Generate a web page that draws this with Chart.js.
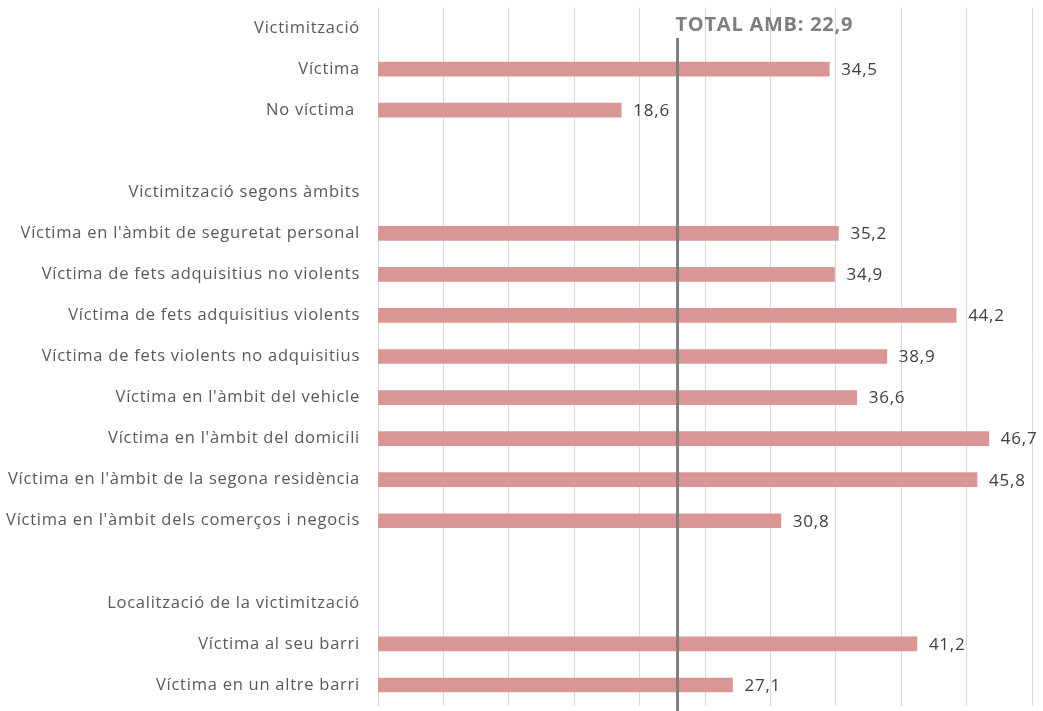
<!DOCTYPE html>
<html>
<head>
<meta charset="utf-8">
<script src="https://cdn.jsdelivr.net/npm/chart.js@4"></script>
<style>
    html, body { margin: 0; padding: 0; background: #ffffff; }
    #wrap { width: 1043px; height: 711px; }
</style>
</head>
<body>
<div id="wrap"><canvas id="myChart" width="1043" height="711"></canvas></div>
<script>
// Data

var categories = [
    "Victimització",
    "Víctima",
    "No víctima ",
    "",
    "Victimització segons àmbits",
    "Víctima en l'àmbit de seguretat personal",
    "Víctima de fets adquisitius no violents",
    "Víctima de fets adquisitius violents",
    "Víctima de fets violents no adquisitius",
    "Víctima en l'àmbit del vehicle",
    "Víctima en l'àmbit del domicili",
    "Víctima en l'àmbit de la segona residència",
    "Víctima en l'àmbit dels comerços i negocis",
    "",
    "Localització de la victimització",
    "Víctima al seu barri",
    "Víctima en un altre barri"
];

var values = [null, 34.5, 18.6, null, null, 35.2, 34.9, 44.2, 38.9, 36.6, 46.7, 45.8, 30.8, null, null, 41.2, 27.1];

var totalAmb = 22.9;
var totalLabel = "TOTAL AMB: 22,9";

var fontFamily = "'Open Sans', 'Liberation Sans', sans-serif";

// Slightly looser lettering for all text

var spacing = {
    id: 'spacing',
    beforeDraw: function (chart) {
        chart.ctx.letterSpacing = '0.75px';
    },
    afterDraw: function (chart) {
        chart.ctx.letterSpacing = '0px';
    }
};

// Value labels at the end of each bar

var valueLabels = {
    id: 'valueLabels',
    afterDatasetsDraw: function (chart) {
        var ctx = chart.ctx;
        var meta = chart.getDatasetMeta(0);
        ctx.save();
        ctx.font = '17px ' + fontFamily;
        ctx.fillStyle = '#404040';
        ctx.textAlign = 'left';
        ctx.textBaseline = 'middle';
        meta.data.forEach(function (bar, i) {
            if (values[i] === null) return;
            ctx.fillText(values[i].toFixed(1).replace('.', ','), bar.x + 12, bar.y + 1);
        });
        ctx.restore();
    }
};

// Reference line for the AMB total

var totalLine = {
    id: 'totalLine',
    afterDatasetsDraw: function (chart) {
        var ctx = chart.ctx;
        var x = chart.scales.x.getPixelForValue(totalAmb);
        ctx.save();
        ctx.strokeStyle = '#7f7f7f';
        ctx.lineWidth = 3;
        ctx.beginPath();
        ctx.moveTo(x, 38);
        ctx.lineTo(x, chart.height);
        ctx.stroke();
        ctx.font = 'bold 20px ' + fontFamily;
        ctx.fillStyle = '#7f7f7f';
        ctx.textAlign = 'left';
        ctx.textBaseline = 'middle';
        ctx.fillText(totalLabel, x - 2, 25);
        ctx.restore();
    }
};

var ctx = document.getElementById('myChart').getContext('2d');
var chart = new Chart(ctx, {
    type: 'bar',
    data: {
        labels: categories,
        datasets: [{
            data: values,
            backgroundColor: '#d99694',
            borderWidth: 0,
            barThickness: 14
        }]
    },
    options: {
        indexAxis: 'y',
        responsive: false,
        animation: false,
        layout: {
            padding: { left: 0, right: 11, top: 7.5, bottom: 5.5 }
        },
        plugins: {
            legend: { display: false },
            tooltip: { enabled: false }
        },
        scales: {
            x: {
                min: 0,
                max: 50,
                ticks: { display: false, stepSize: 5 },
                grid: { color: '#d9d9d9', lineWidth: 1, drawTicks: false },
                border: { display: false },
                afterFit: function (scale) {
                    scale.height = 0;
                }
            },
            y: {
                ticks: {
                    color: '#595959',
                    padding: 18,
                    autoSkip: false,
                    font: { family: fontFamily, size: 16.5 }
                },
                grid: { display: false, drawTicks: false },
                border: { display: false },
                afterFit: function (scale) {
                    scale.width = 378;
                    scale.paddingTop = 0;
                    scale.paddingBottom = 0;
                }
            }
        }
    },
    plugins: [spacing, valueLabels, totalLine]
});
</script>
</body>
</html>
